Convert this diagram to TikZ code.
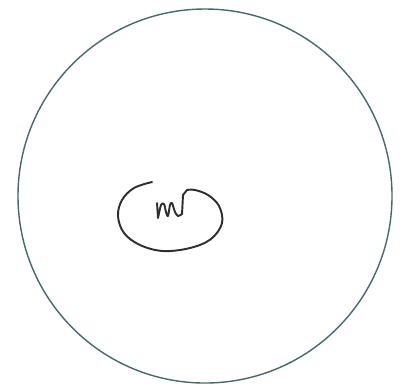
\documentclass[tikz,border=0pt]{standalone}
\usetikzlibrary{calc}
\definecolor{RimLine}{HTML}{456A68}
\definecolor{InkLine}{HTML}{2E2E2E}

\begin{document}
\begin{tikzpicture}[x=0.1mm,y=-0.1mm]
    \tikzset{rim/.style={draw=RimLine,line width=0.4pt},
      ink/.style={draw=InkLine,line width=0.55pt,line cap=round,line join=round}}
    \useasboundingbox (0,0) rectangle (405,383);
    % outer circle
    \draw[rim] (205,196) circle [radius=187];
    % hand drawn loop with squiggle
    \draw[ink] plot[smooth,tension=0.6] coordinates {(152,182) (134,188) (122,200) (118,216)
        (124,233) (140,245) (163,251) (190,248) (211,239) (222,223) (219,206)
        (208,195) (195,190) (187,190)}
      -- (183,195) -- (182,214)
      plot[smooth,tension=0.5] coordinates {(182,214) (178,216) (175,212) (172,203)
        (170,205) (168,216) (166,212) (164,204) (161,205) (158,218)}
      -- (157,203);
\end{tikzpicture}
\end{document}
